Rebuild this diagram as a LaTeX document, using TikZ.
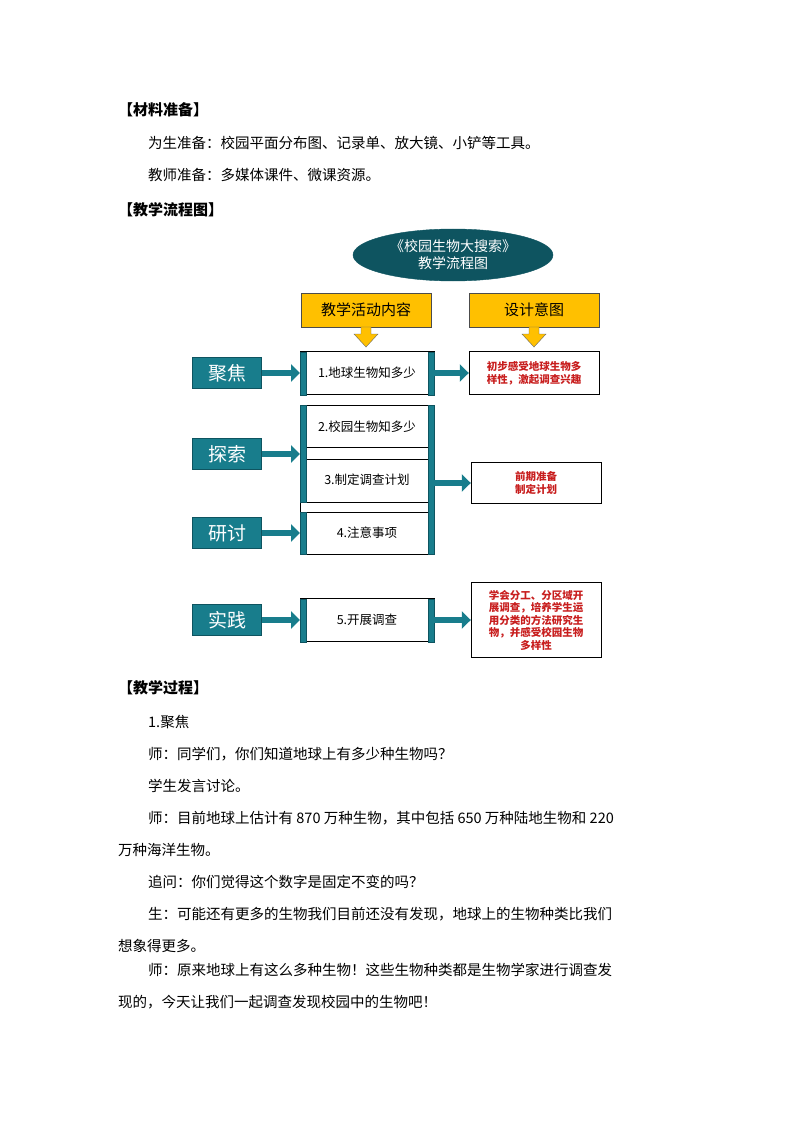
\documentclass[tikz,border=0pt]{standalone}
\usepackage{fontspec}
\setmainfont{Noto Sans CJK SC}
\usetikzlibrary{positioning,arrows.meta,shapes.geometric}
\definecolor{tealbox}{RGB}{24,125,140}
\definecolor{darkteal}{RGB}{14,84,96}
\definecolor{goldbox}{RGB}{255,192,0}
\definecolor{redtext}{RGB}{200,30,30}
\tikzset{
  body/.style={anchor=west,font=\fontsize{14.5}{16}\selectfont,inner sep=0},
  head/.style={body,font=\fontsize{15}{16}\selectfont\bfseries},
  stage/.style={draw=darkteal,fill=tealbox,text=white,minimum width=69,minimum height=31,font=\fontsize{19}{20}\selectfont,inner sep=0},
  step/.style={},
  stepbox/.style={draw,thick,fill=white,minimum width=134,minimum height=43,font=\fontsize{12.5}{14}\selectfont,inner sep=0},
  aim/.style={draw,fill=white,text=redtext,minimum width=130,align=center,font=\fontsize{10.5}{13}\selectfont\bfseries,inner sep=2},
  gold/.style={draw=black!70,fill=goldbox,minimum width=130,minimum height=34,font=\fontsize{15}{16}\selectfont,inner sep=0},
  bar/.style={fill=tealbox,draw=darkteal},
  fat/.style={draw=darkteal,line width=6,-{Triangle[length=9,width=17]},tealbox},
  down/.style={draw=black!60,fill=goldbox}
}
\begin{document}
\begin{tikzpicture}[x=1pt,y=-1pt]
\useasboundingbox (0,0) rectangle (794,1123);
% page text
\node[head] (t1) at (118,110) {【材料准备】};
\node[body] (p1) at (148,143) {为生准备：校园平面分布图、记录单、放大镜、小铲等工具。};
\node[body] (p2) at (148,175) {教师准备：多媒体课件、微课资源。};
\node[head] (t2) at (118,210) {【教学流程图】};
% flow chart
\node[ellipse,fill=darkteal,draw=darkteal,text=white,minimum width=200,minimum height=52,align=center,inner sep=0,font=\fontsize{14}{17}\selectfont] (title) at (453,255) {《校园生物大搜索》\\教学流程图};
\node[gold] (g1) at (366,310) {教学活动内容};
\node[gold] (g2) at (534,310) {设计意图};
\foreach \x in {366,534}
  \filldraw[down] (\x-5,327) -- (\x+5,327) -- (\x+5,334) -- (\x+12,334) -- (\x,347) -- (\x-12,334) -- (\x-5,334) -- cycle;
% stages
\node[stage] (s1) at (227,373) {聚焦};
\node[stage] (s2) at (227,454) {探索};
\node[stage] (s3) at (227,533) {研讨};
\node[stage] (s4) at (227,620) {实践};
% activity boxes
\node[stepbox] (a1) at (367,373) {1.地球生物知多少};
\draw[thick] (300,405) rectangle (434,554);
\node[inner sep=0,font=\fontsize{12.5}{14}\selectfont] (a2) at (367,427) {2.校园生物知多少};
\node[inner sep=0,font=\fontsize{12.5}{14}\selectfont] (a3) at (367,480) {3.制定调查计划};
\node[inner sep=0,font=\fontsize{12.5}{14}\selectfont] (a4) at (367,533) {4.注意事项};
\draw (306,447) -- (428,447) (306,459) -- (428,459) (306,502) -- (428,502) (306,512) -- (428,512);
\node[stepbox] (a5) at (367,620) {5.开展调查};
\filldraw[bar] (300,352) rectangle (306,395) (428,352) rectangle (434,395);
\filldraw[bar] (300,405) rectangle (306,502) (300,512) rectangle (306,554) (428,405) rectangle (434,554);
\filldraw[bar] (300,599) rectangle (306,642) (428,599) rectangle (434,642);
% aims
\node[aim,minimum height=43] (d1) at (534,373) {初步感受地球生物多\\样性，激起调查兴趣};
\node[aim,minimum height=41] (d2) at (536,483) {前期准备\\制定计划};
\node[aim,minimum height=75,font=\fontsize{10.5}{12.5}\selectfont\bfseries] (d3) at (536,620) {学会分工、分区域开\\展调查，培养学生运\\用分类的方法研究生\\物，并感受校园生物\\多样性};
% arrows
\draw[fat] (s1.east) -- (300,373);
\draw[fat] (s2.east) -- (300,454);
\draw[fat] (s3.east) -- (300,533);
\draw[fat] (s4.east) -- (300,620);
\draw[fat] (434,373) -- (d1.west);
\draw[fat] (434,483) -- (d2.west);
\draw[fat] (434,620) -- (d3.west);
% process text
\node[head] (t3) at (118,688) {【教学过程】};
\node[body] (q1) at (148,722) {1.聚焦};
\node[body] (q2) at (148,754) {师：同学们，你们知道地球上有多少种生物吗？};
\node[body] (q3) at (148,786) {学生发言讨论。};
\node[body] (q4) at (148,818) {师：目前地球上估计有 870 万种生物，其中包括 650 万种陆地生物和 220};
\node[body] (q5) at (118,850) {万种海洋生物。};
\node[body] (q6) at (148,882) {追问：你们觉得这个数字是固定不变的吗？};
\node[body] (q7) at (148,914) {生：可能还有更多的生物我们目前还没有发现，地球上的生物种类比我们};
\node[body] (q8) at (118,946) {想象得更多。};
\node[body] (q9) at (148,970) {师：原来地球上有这么多种生物！这些生物种类都是生物学家进行调查发};
\node[body] (q10) at (118,1002) {现的，今天让我们一起调查发现校园中的生物吧！};
\end{tikzpicture}
\end{document}
